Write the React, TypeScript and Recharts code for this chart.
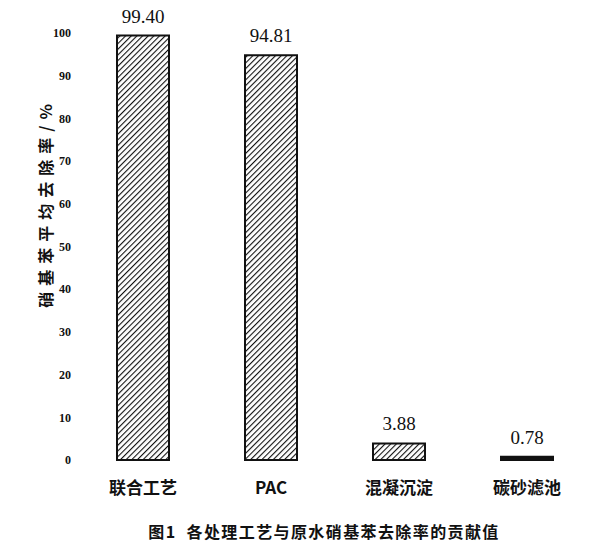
import React from "react";
import { BarChart, Bar, XAxis, YAxis, LabelList, Cell } from "recharts";

const categories = ["联合工艺", "PAC", "混凝沉淀", "碳砂滤池"];
const removalRates = [99.4, 94.81, 3.88, 0.78];
const yTicks = [0, 10, 20, 30, 40, 50, 60, 70, 80, 90, 100];

const data = categories.map((name, i) => ({ name, value: removalRates[i] }));

const cjk = '"Noto Sans CJK SC", "Noto Sans", sans-serif';
const serif = '"Liberation Serif", "DejaVu Serif", serif';

// rotated y-axis title, sits a bit above the plot centre like the scan
const YTitle = (props: any) => {
  const { viewBox } = props;
  const cx = viewBox.x + 37;
  const cy = viewBox.y + 170;
  return (
    <text
      x={cx}
      y={cy}
      transform={`rotate(-90 ${cx} ${cy})`}
      textAnchor="middle"
      dominantBaseline="central"
      fontFamily={cjk}
      fontWeight="bold"
      fontSize={16}
      letterSpacing={6}
      fill="#111"
    >
      硝基苯平均去除率/%
    </text>
  );
};

const App: React.FC = () => {
  return (
    <div style={{ position: "relative", width: 585, height: 551, marginTop: -8 }}>
      <BarChart
        width={585}
        height={551}
        data={data}
        margin={{ top: 33, right: 2, bottom: 51, left: 0 }}
      >
        <defs>
          <pattern
            id="hatch"
            patternUnits="userSpaceOnUse"
            width={4}
            height={4}
            patternTransform="rotate(45)"
          >
            <rect width={4} height={4} fill="#fff" />
            <line x1={0} y1={0} x2={0} y2={4} stroke="#111" strokeWidth={2.2} />
          </pattern>
        </defs>
        <XAxis
          dataKey="name"
          axisLine={false}
          tickLine={false}
          tickSize={0}
          tickMargin={22}
          height={40}
          interval={0}
          tick={{ fontFamily: cjk, fontWeight: "bold", fontSize: 17, fill: "#111" }}
        />
        <YAxis
          width={71}
          domain={[0, 100]}
          ticks={yTicks}
          interval={0}
          axisLine={false}
          tickLine={false}
          tick={{ fontFamily: serif, fontWeight: "bold", fontSize: 12, fill: "#111" }}
          label={<YTitle />}
        />
        <Bar
          dataKey="value"
          barSize={52}
          fill="url(#hatch)"
          stroke="#111"
          strokeWidth={2}
          isAnimationActive={false}
        >
          {data.map((d) => (
            // the thinnest bar prints as a solid black line
            <Cell key={d.name} fill={d.value < 1 ? "#111" : "url(#hatch)"} />
          ))}
          <LabelList
            dataKey="value"
            position="top"
            offset={13}
            formatter={(v: any) => Number(v).toFixed(2)}
            style={{ fontFamily: serif, fontSize: 19, fill: "#111" }}
          />
        </Bar>
      </BarChart>
      <div
        style={{
          position: "absolute",
          left: 47,
          width: 538,
          top: 519,
          textAlign: "center",
          fontFamily: cjk,
          fontWeight: "bold",
          fontSize: 16,
          letterSpacing: 1.4,
          whiteSpace: "pre",
          color: "#111",
        }}
      >
        {"图1  各处理工艺与原水硝基苯去除率的贡献值"}
      </div>
    </div>
  );
};

export default App;
